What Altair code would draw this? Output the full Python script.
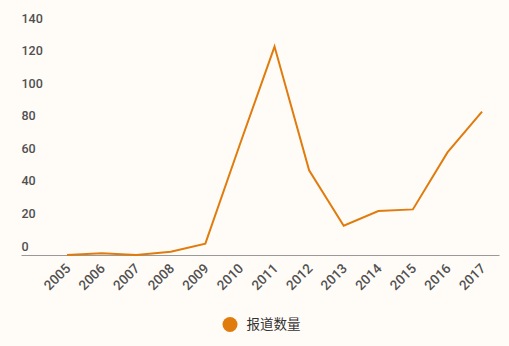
import altair as alt
import pandas as pd

years = [2005, 2006, 2007, 2008, 2009, 2010, 2011, 2012, 2013, 2014, 2015, 2016, 2017]
counts = [0, 1, 0, 2, 7, 68, 128, 52, 18, 27, 28, 63, 88]
series_name = "报道数量"
y_ticks = [0, 20, 40, 60, 80, 100, 120, 140]

df = pd.DataFrame({"year": years, "count": counts, "series": [series_name] * len(years)})

chart = alt.Chart(df).mark_line(strokeWidth=2, interpolate="linear").encode(
    x=alt.X("year:Q",
            scale=alt.Scale(domain=[2003.67, 2017.49], nice=False, zero=False),
            axis=alt.Axis(values=years, format="d", title=None, ticks=False, grid=False,
                          domainColor="#999999", domainWidth=1,
                          labelAngle=-45, labelAlign="right", labelBaseline="middle",
                          labelPadding=11, labelOffset=1, labelFont="Roboto", labelFontSize=13.5,
                          labelColor="#505050", labelFontWeight=500)),
    y=alt.Y("count:Q",
            scale=alt.Scale(domain=[0, 140], nice=False),
            axis=alt.Axis(values=y_ticks, title=None, ticks=False, grid=False, domain=False,
                          labelAlign="left", labelBaseline="alphabetic", labelPadding=0,
                          labelOffset=-5, labelFont="Roboto", labelFontSize=12.5,
                          labelColor="#505050", labelFontWeight=500)),
    color=alt.Color("series:N",
                    scale=alt.Scale(range=["#E07C0E"]),
                    legend=alt.Legend(title=None, orient="none", legendX=201.5, legendY=290,
                                      symbolType="circle", symbolSize=225,
                                      symbolFillColor="#E07C0E", symbolStrokeWidth=0,
                                      labelFont="Noto Sans CJK SC", labelFontSize=13.5,
                                      labelColor="#333333", padding=0, labelOffset=9)),
).properties(
    width=478, height=228,
    autosize=alt.AutoSizeParams(type="none"),
    padding={"left": 21, "top": 27, "right": 10, "bottom": 91},
    background="#FFFBF7",
).configure_view(stroke=None)

chart.save("out.html", embed_options={"renderer": "svg", "actions": False})
